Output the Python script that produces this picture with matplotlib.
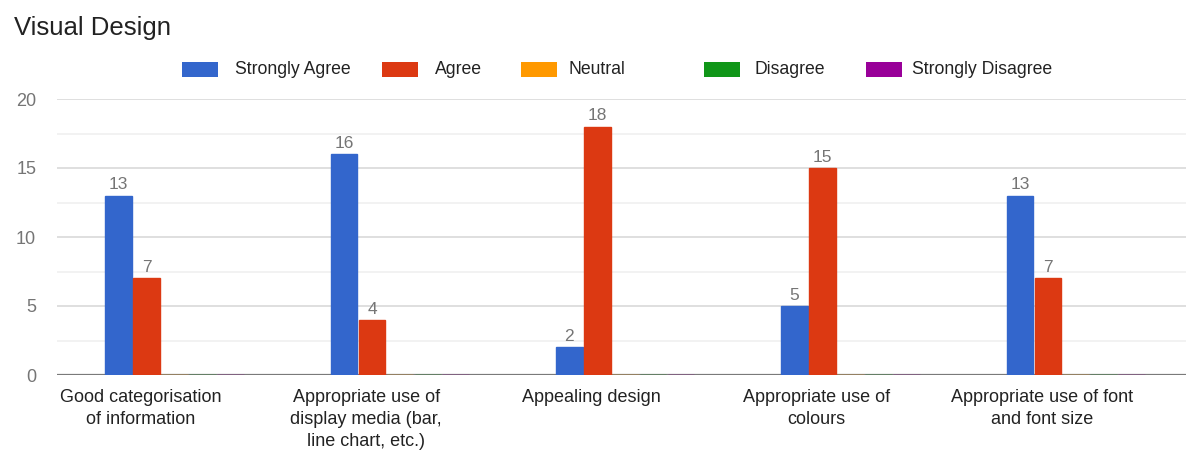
import numpy as np
import matplotlib
matplotlib.use("Agg")
import matplotlib.pyplot as plt
from matplotlib.patches import Rectangle

plt.rcParams['font.family'] = ['Liberation Sans', 'DejaVu Sans']

title = "Visual Design"
categories = [
    "Good categorisation\nof information",
    "Appropriate use of\ndisplay media (bar,\nline chart, etc.)",
    "Appealing design",
    "Appropriate use of\ncolours",
    "Appropriate use of font\nand font size",
]
series_names = ["Strongly Agree", "Agree", "Neutral", "Disagree", "Strongly Disagree"]
series_colors = ["#3366cc", "#dc3912", "#ff9900", "#109618", "#990099"]

strongly_agree = [13, 16, 2, 5, 13]
agree = [7, 4, 18, 15, 7]
neutral = [0, 0, 0, 0, 0]
disagree = [0, 0, 0, 0, 0]
strongly_disagree = [0, 0, 0, 0, 0]
series_values = [strongly_agree, agree, neutral, disagree, strongly_disagree]

y_ticks = [0, 5, 10, 15, 20]

W, H = 1192, 451
fig = plt.figure(figsize=(W / 100, H / 100), dpi=100)
ax = fig.add_axes([57 / W, 1 - 375 / H, (1186 - 57) / W, (375 - 99) / H])

x = np.arange(len(categories))
pitch = 0.124
bar_w = 0.118
for k, (name, vals, col) in enumerate(zip(series_names, series_values, series_colors)):
    pos = x + (k - 2) * pitch
    ax.bar(pos, vals, width=bar_w, color=col, edgecolor=col, linewidth=1.0,
           zorder=3, label=name)
    for px, v in zip(pos, vals):
        if v:
            ax.annotate(str(v), (px, v), xytext=(0, 4.5), textcoords="offset points",
                        ha="center", va="baseline", fontsize=12.5, color="#757575",
                        zorder=4)

ax.set_xlim(-0.522, 4.489)
ax.set_ylim(0, 20)
ax.set_yticks(y_ticks)
ax.set_yticks(np.arange(2.5, 20, 5), minor=True)
ax.grid(axis="y", which="major", color="#dcdcdc", linewidth=1.3, zorder=0)
ax.grid(axis="y", which="minor", color="#efefef", linewidth=1.1, zorder=0)
ax.axhline(0, color="#7a7a7a", linewidth=1.6, zorder=2)
for s in ax.spines.values():
    s.set_visible(False)

ax.set_xticks(x - 0.15)
ax.set_xticklabels(categories, fontsize=13, color="#222222", linespacing=1.38)
ax.tick_params(axis="x", length=0, pad=10)
ax.tick_params(axis="y", which="both", length=0, pad=15, labelsize=13, labelcolor="#757575")

fig.text(14 / W, 1 - 35 / H, title, fontsize=18.5, color="#222222", va="baseline", ha="left")

# legend row
swatch_x = [182, 382, 521, 704, 866]
label_x = [235, 435, 568, 754, 912]
for sx, lx, name, col in zip(swatch_x, label_x, series_names, series_colors):
    fig.add_artist(Rectangle((sx / W, 1 - 77 / H), 36 / W, 15 / H, transform=fig.transFigure,
                             facecolor=col, edgecolor="none"))
    fig.text(lx / W, 1 - 70 / H, name, fontsize=12.7, color="#222222", va="center", ha="left")

fig.savefig("out.png", dpi=100)
